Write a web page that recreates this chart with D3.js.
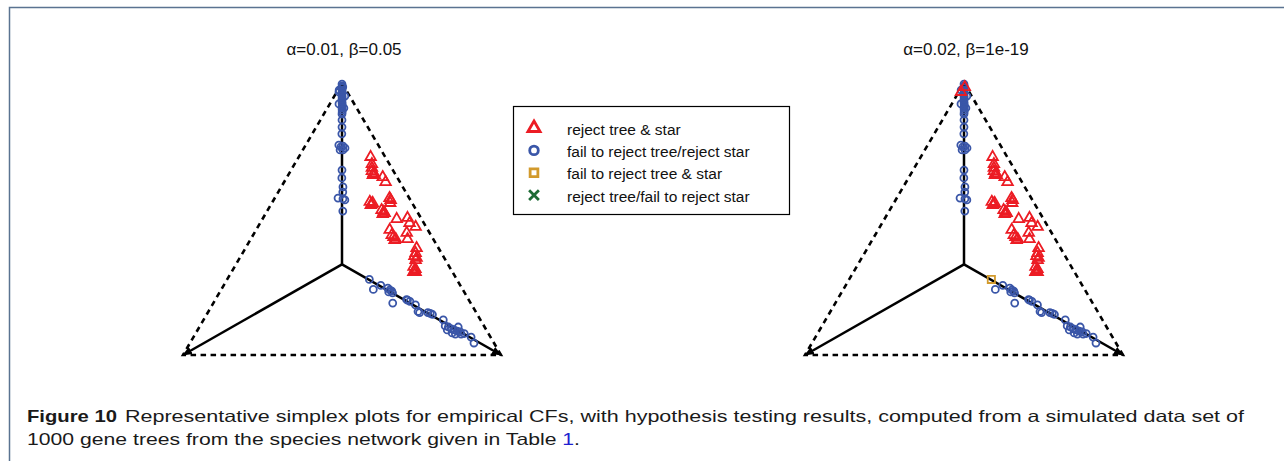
<!DOCTYPE html>
<html>
<head>
<meta charset="utf-8">
<script src="https://d3js.org/d3.v7.min.js"></script>
<style>
  body { margin: 0; background: #fff; }
  svg { display: block; font-family: "Liberation Sans", Arial, sans-serif; }
</style>
</head>
<body>
<svg id="chart"></svg>
<script>
// panel titles and legend
const panelTitles = ['α=0.01, β=0.05', 'α=0.02, β=1e-19'];
const legendLabels = [
  'reject tree & star',
  'fail to reject tree/reject star',
  'fail to reject tree & star',
  'reject tree/fail to reject star'
];
const legendColors = ['#ec1c24', '#3a56a8', '#d29a2c', '#1e6b35'];

// concordance factors [CF top, CF left, CF right]
// red in both panels
const rejectBoth = [
  [.728,.046,.226],[.702,.055,.243],[.688,.062,.250],[.676,.068,.256],[.669,.066,.265],
  [.662,.072,.266],[.662,.066,.272],[.654,.045,.301],[.636,.045,.319],[.577,.062,.361],
  [.559,.069,.372],[.570,.062,.368],[.563,.131,.306],[.555,.129,.316],[.551,.134,.315],
  [.559,.124,.317],[.533,.109,.358],[.526,.106,.368],[.518,.113,.369],[.522,.105,.373],
  [.500,.078,.422],[.504,.042,.454],[.485,.045,.470],[.471,.033,.496],[.449,.072,.479],
  [.426,.081,.493],[.460,.120,.420],[.441,.123,.436],[.434,.121,.445],[.426,.118,.456],
  [.423,.123,.454],[.393,.069,.538],[.375,.081,.544],[.364,.090,.546],[.357,.087,.556],
  [.349,.094,.557],[.324,.113,.563],[.316,.111,.573],[.309,.118,.573],[.305,.123,.572],
  [.305,.116,.579]
];
// blue in both panels
const starOnly = [
  [.996,.002,.002],[.989,.005,.006],[.982,.009,.009],[.974,.013,.013],[.974,.022,.004],
  [.967,.016,.017],[.960,.020,.020],[.952,.024,.024],[.952,.015,.033],[.945,.027,.028],
  [.938,.031,.031],[.930,.035,.035],[.923,.038,.039],[.923,.048,.029],[.915,.042,.043],
  [.908,.046,.046],[.908,.040,.052],[.901,.049,.050],[.893,.053,.054],
  [.886,.057,.057],[.864,.068,.068],[.838,.081,.081],[.813,.094,.093],
  [.772,.124,.104],[.765,.121,.114],[.768,.113,.119],[.761,.110,.129],[.754,.129,.117],
  [.754,.120,.126],[.680,.160,.160],[.651,.175,.174],[.618,.188,.194],[.599,.198,.203],
  [.577,.224,.199],[.574,.210,.216],[.570,.206,.224],[.529,.233,.238],
  [.241,.281,.478],[.256,.250,.494],[.246,.233,.521],[.239,.230,.531],[.235,.226,.539],
  [.228,.227,.545],[.232,.237,.531],[.191,.245,.564],[.204,.195,.601],[.197,.188,.615],
  [.202,.193,.605],[.184,.177,.639],[.160,.181,.659],[.156,.178,.666],[.156,.152,.692],
  [.153,.146,.701],[.149,.141,.710],[.129,.117,.754],[.107,.122,.771],[.103,.114,.783],
  [.096,.108,.796],[.092,.101,.807],[.088,.094,.818],[.085,.086,.829],[.092,.123,.785],
  [.081,.113,.806],[.103,.083,.814],[.077,.087,.836],[.077,.105,.818],[.079,.076,.845],
  [.066,.061,.873],[.044,.063,.893]
];
// trees whose result changes between the two panels
const apexSwitch = [[.985,.005,.010],[.967,.026,.007]];
const centreSwitch = [[.278,.275,.447]];

const groups = [starOnly, apexSwitch, centreSwitch, rejectBoth];
// legend index of each group, per panel
const groupResults = [[1, 1, 1, 0], [1, 0, 2, 0]];

const W = 1284, H = 461;
const svg = d3.select('#chart').attr('width', W).attr('height', H);

// frame
svg.append('path')
  .attr('d', `M9.5,${H}V7.5H${W}`)
  .attr('fill', 'none').attr('stroke', '#5a7391').attr('stroke-width', 1.5);

svg.append('defs').append('marker')
  .attr('id', 'arrow')
  .attr('markerUnits', 'userSpaceOnUse')
  .attr('viewBox', '0 -5 10 10')
  .attr('refX', 9).attr('refY', 0)
  .attr('markerWidth', 10).attr('markerHeight', 10)
  .attr('orient', 'auto')
  .append('path').attr('d', 'M0,-4L10,0L0,4Z').attr('fill', '#000');

const shapes = [d3.symbolTriangle, d3.symbolCircle, d3.symbolSquare, d3.symbolTimes];
const plotSizes = [48, 38, 52, 40];

const panels = [{ x0: 183, x1: 501 }, { x0: 805, x1: 1123 }];

panels.forEach((p, pi) => {
  const x = d3.scaleLinear().domain([0, 1]).range([p.x0, p.x1]);
  const y = d3.scaleLinear().domain([0, 1]).range([355, 83]);
  const pos = d => [x(d[2] + d[0] / 2), y(d[0])];

  const g = svg.append('g');
  const top = pos([1, 0, 0]), left = pos([0, 1, 0]), right = pos([0, 0, 1]);
  const mid = pos([1 / 3, 1 / 3, 1 / 3]);

  g.append('path')
    .attr('d', d3.line()([top, right, left, top]))
    .attr('fill', 'none').attr('stroke', '#000')
    .attr('stroke-width', 2.6).attr('stroke-dasharray', '5.5,4.5');

  [top, left, right].forEach(v => {
    g.append('line')
      .attr('x1', mid[0]).attr('y1', mid[1])
      .attr('x2', v[0]).attr('y2', v[1])
      .attr('stroke', '#000').attr('stroke-width', 2.5)
      .attr('marker-end', 'url(#arrow)');
  });

  groups.forEach((pts, gi) => {
    const k = groupResults[pi][gi];
    g.append('g').selectAll('path')
      .data(pts)
      .join('path')
      .attr('transform', d => `translate(${pos(d)})`)
      .attr('d', d3.symbol().type(shapes[k]).size(plotSizes[k]))
      .attr('fill', 'none')
      .attr('stroke', legendColors[k])
      .attr('stroke-width', 1.8);
  });

  svg.append('text')
    .attr('x', mid[0] + 2).attr('y', 55)
    .attr('text-anchor', 'middle')
    .attr('font-size', 17).attr('fill', '#111')
    .text(panelTitles[pi]);
});

// legend
const lg = svg.append('g');
lg.append('rect')
  .attr('x', 513.5).attr('y', 106.5).attr('width', 276).attr('height', 108)
  .attr('fill', '#fff').attr('stroke', '#000').attr('stroke-width', 1.2);
const legendSizes = [64, 58, 60, 64];
legendLabels.forEach((lab, i) => {
  const yb = 134.5 + i * 22.4;
  lg.append('path')
    .attr('transform', `translate(534,${yb - 6.5})`)
    .attr('d', d3.symbol().type(shapes[i]).size(legendSizes[i]))
    .attr('fill', 'none').attr('stroke', legendColors[i]).attr('stroke-width', 2.8);
  lg.append('text')
    .attr('x', 567).attr('y', yb)
    .attr('font-size', 15.5).attr('fill', '#111')
    .text(lab);
});

// caption
const cap = svg.append('g').attr('fill', '#1a1a1a').attr('font-size', 16.5);
cap.append('text')
  .attr('x', 27).attr('y', 421.5)
  .attr('font-weight', 'bold')
  .attr('textLength', 90).attr('lengthAdjust', 'spacingAndGlyphs')
  .text('Figure 10');
cap.append('text')
  .attr('x', 125).attr('y', 421.5)
  .attr('textLength', 1119).attr('lengthAdjust', 'spacingAndGlyphs')
  .text('Representative simplex plots for empirical CFs, with hypothesis testing results, computed from a simulated data set of');
const l2 = cap.append('text')
  .attr('x', 27).attr('y', 445)
  .attr('textLength', 553).attr('lengthAdjust', 'spacingAndGlyphs');
l2.append('tspan').text('1000 gene trees from the species network given in Table ');
l2.append('tspan').attr('fill', '#2020d0').text('1');
l2.append('tspan').text('.');
</script>
</body>
</html>
